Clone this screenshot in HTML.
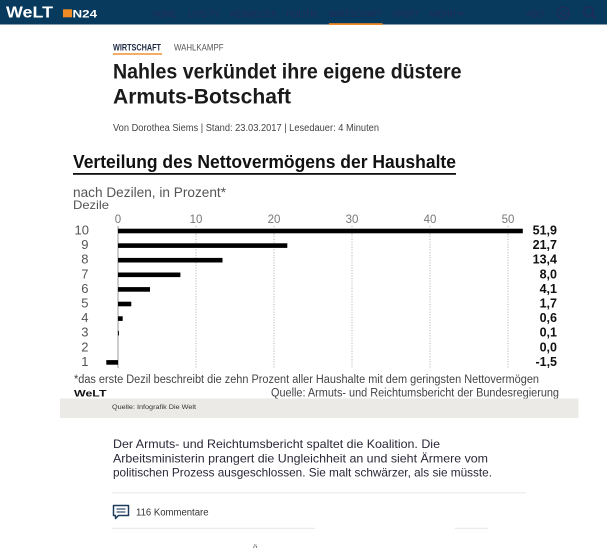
<!DOCTYPE html>
<html><head><meta charset="utf-8"><style>
html,body{margin:0;padding:0;background:#fff;}
svg{display:block;font-family:"Liberation Sans",Arial,sans-serif;}
</style></head><body>
<svg width="607" height="548" viewBox="0 0 607 548" xmlns="http://www.w3.org/2000/svg">
<!-- nav bar -->
<rect x="0" y="0" width="607" height="24.5" fill="#073a5d"/>
<text x="6" y="17.5" font-size="16" font-weight="bold" fill="#fff" textLength="47" lengthAdjust="spacingAndGlyphs">WeLT</text>
<rect x="63" y="9.3" width="9" height="8" fill="#f08a24"/>
<text x="72.5" y="17.4" font-size="11" font-weight="bold" fill="#fff" textLength="24.5" lengthAdjust="spacingAndGlyphs">N24</text>
<g font-size="9.5" fill="#232a5e">
<text x="153" y="17" textLength="23.5" lengthAdjust="spacingAndGlyphs">HOME</text>
<text x="188" y="17" textLength="32" lengthAdjust="spacingAndGlyphs">LIVE-TV</text>
<text x="229.6" y="17" textLength="47" lengthAdjust="spacingAndGlyphs">WEBWELTEN</text>
<text x="286.5" y="17" textLength="31.5" lengthAdjust="spacingAndGlyphs">POLITIK</text>
<text x="329" y="17" textLength="53.5" lengthAdjust="spacingAndGlyphs">WIRTSCHAFT</text>
<text x="392" y="17" textLength="27" lengthAdjust="spacingAndGlyphs">SPORT</text>
<text x="430" y="17" textLength="26" lengthAdjust="spacingAndGlyphs">MEHR</text>
<text x="526.5" y="17" textLength="17.5" lengthAdjust="spacingAndGlyphs">ABO</text>
</g>
<path d="M457.5 11.5 L461 15 L464.5 11.5" stroke="#232a5e" stroke-width="1.3" fill="none"/>
<circle cx="563.3" cy="13" r="6" stroke="#232a5e" stroke-width="1.3" fill="none"/>
<circle cx="563.3" cy="13" r="2.5" stroke="#232a5e" stroke-width="1" fill="none"/>
<circle cx="588.5" cy="11.5" r="4.8" stroke="#232a5e" stroke-width="1.4" fill="none"/>
<line x1="592" y1="15" x2="596" y2="19" stroke="#232a5e" stroke-width="1.6"/>
<rect x="329" y="23.2" width="53.5" height="1.8" fill="#f08a24"/>

<!-- article header -->
<text x="113" y="50.5" font-size="9" font-weight="bold" fill="#1e2a44" textLength="48" lengthAdjust="spacingAndGlyphs">WIRTSCHAFT</text>
<rect x="113" y="53.3" width="49" height="1.4" fill="#f08a24"/>
<text x="174" y="50.5" font-size="9" fill="#555" textLength="49.5" lengthAdjust="spacingAndGlyphs">WAHLKAMPF</text>
<text x="113" y="78.5" font-size="21" font-weight="bold" fill="#1a1a1a" textLength="348.5" lengthAdjust="spacingAndGlyphs">Nahles verkündet ihre eigene düstere</text>
<text x="113" y="103.5" font-size="21" font-weight="bold" fill="#1a1a1a" textLength="178" lengthAdjust="spacingAndGlyphs">Armuts-Botschaft</text>
<text x="113" y="131" font-size="10" fill="#444" textLength="266" lengthAdjust="spacingAndGlyphs">Von Dorothea Siems | Stand: 23.03.2017 | Lesedauer: 4 Minuten</text>

<!-- chart -->
<text x="73" y="168" font-size="18" font-weight="bold" fill="#111" textLength="383" lengthAdjust="spacingAndGlyphs">Verteilung des Nettovermögens der Haushalte</text>
<rect x="73" y="173" width="383" height="1.8" fill="#111"/>
<text x="73" y="197" font-size="14" fill="#555" textLength="153" lengthAdjust="spacingAndGlyphs">nach Dezilen, in Prozent*</text>
<text x="73" y="209" font-size="12" fill="#555" textLength="36" lengthAdjust="spacingAndGlyphs">Dezile</text>

<g font-size="11.5" fill="#777" text-anchor="middle">
<text x="118" y="223">0</text>
<text x="196" y="223">10</text>
<text x="274" y="223">20</text>
<text x="352" y="223">30</text>
<text x="430" y="223">40</text>
<text x="508" y="223">50</text>
</g>
<g stroke="#b0b0b0" stroke-width="1" stroke-dasharray="1 1.6">
<line x1="196" y1="226" x2="196" y2="368"/>
<line x1="274" y1="226" x2="274" y2="368"/>
<line x1="352" y1="226" x2="352" y2="368"/>
<line x1="430" y1="226" x2="430" y2="368"/>
<line x1="508" y1="226" x2="508" y2="368"/>
</g>
<line x1="118" y1="226" x2="118" y2="368" stroke="#999" stroke-width="1"/>

<g fill="#000">
<rect x="118" y="228.7" width="404.8" height="4.6"/>
<rect x="118" y="243.3" width="169.3" height="4.6"/>
<rect x="118" y="257.9" width="104.5" height="4.6"/>
<rect x="118" y="272.5" width="62.4" height="4.6"/>
<rect x="118" y="287.1" width="32" height="4.6"/>
<rect x="118" y="301.7" width="13.3" height="4.6"/>
<rect x="118" y="316.3" width="4.7" height="4.6"/>
<rect x="118" y="330.9" width="0.9" height="4.6"/>
<rect x="106.3" y="360.1" width="11.7" height="4.6"/>
</g>

<g font-size="13" fill="#555" text-anchor="end">
<text x="89" y="234.5">10</text>
<text x="88.5" y="249.1">9</text>
<text x="88.5" y="263.7">8</text>
<text x="88.5" y="278.3">7</text>
<text x="88.5" y="292.9">6</text>
<text x="88.5" y="307.5">5</text>
<text x="88.5" y="322.1">4</text>
<text x="88.5" y="336.7">3</text>
<text x="88.5" y="351.3">2</text>
<text x="88.5" y="365.9">1</text>
</g>
<g font-size="12.5" font-weight="bold" fill="#111" text-anchor="end">
<text x="557" y="234.5">51,9</text>
<text x="557" y="249.1">21,7</text>
<text x="557" y="263.7">13,4</text>
<text x="557" y="278.3">8,0</text>
<text x="557" y="292.9">4,1</text>
<text x="557" y="307.5">1,7</text>
<text x="557" y="322.1">0,6</text>
<text x="557" y="336.7">0,1</text>
<text x="557" y="351.3">0,0</text>
<text x="557" y="365.9">-1,5</text>
</g>

<text x="74" y="383" font-size="11.5" fill="#444" textLength="465" lengthAdjust="spacingAndGlyphs">*das erste Dezil beschreibt die zehn Prozent aller Haushalte mit dem geringsten Nettovermögen</text>
<text x="74" y="396.5" font-size="9" font-weight="bold" fill="#111" textLength="32.5" lengthAdjust="spacingAndGlyphs">WeLT</text>
<text x="271" y="396.5" font-size="11.5" fill="#444" textLength="288" lengthAdjust="spacingAndGlyphs">Quelle: Armuts- und Reichtumsbericht der Bundesregierung</text>

<rect x="60" y="398.5" width="518.5" height="19.5" fill="#ebeae6"/>
<text x="112" y="409" font-size="6" fill="#333" textLength="84" lengthAdjust="spacingAndGlyphs">Quelle: Infografik Die Welt</text>

<!-- body -->
<g font-size="12" fill="#2a2838">
<text x="113" y="448" textLength="327" lengthAdjust="spacingAndGlyphs">Der Armuts- und Reichtumsbericht spaltet die Koalition. Die</text>
<text x="113" y="462.3" textLength="375" lengthAdjust="spacingAndGlyphs">Arbeitsministerin prangert die Ungleichheit an und sieht Ärmere vom</text>
<text x="113" y="476.6" textLength="379" lengthAdjust="spacingAndGlyphs">politischen Prozess ausgeschlossen. Sie malt schwärzer, als sie müsste.</text>
</g>
<rect x="112" y="492.3" width="414" height="1" fill="#e6e6e2"/>

<!-- comment icon -->
<path d="M113.5 505.5 H128.5 V515.5 H118.5 L115.5 518.5 V515.5 H113.5 Z" fill="none" stroke="#1e3a5c" stroke-width="1.5" stroke-linejoin="round"/>
<line x1="116.5" y1="509" x2="125.5" y2="509" stroke="#1e3a5c" stroke-width="1.1"/>
<line x1="116.5" y1="512" x2="125.5" y2="512" stroke="#1e3a5c" stroke-width="1.1"/>
<text x="136" y="515.5" font-size="10" fill="#333" textLength="72.5" lengthAdjust="spacingAndGlyphs">116 Kommentare</text>

<rect x="112" y="527.8" width="203" height="1" fill="#e6e6e2"/>
<rect x="455" y="527.8" width="33" height="1" fill="#e6e6e2"/>
<text x="253" y="550" font-size="8" fill="#555">ö</text>
</svg>
</body></html>
